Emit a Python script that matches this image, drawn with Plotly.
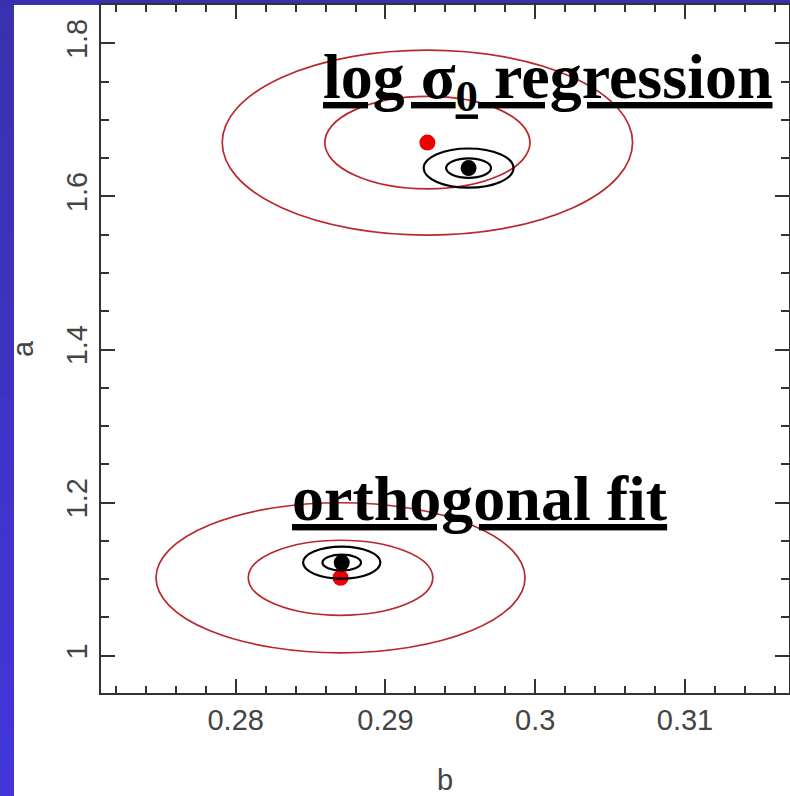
import plotly.graph_objects as go

# ---- data ----
fit_labels = ["<u><b>log σ<sub>0</sub> regression</b></u>", "<u><b>orthogonal fit</b></u>"]
label_b = [0.28572, 0.28365]
label_a = [1.7510, 1.2050]

red_b = [0.2928, 0.2870]
red_a = [1.6703, 1.1018]
red_sig_b = [0.00685, 0.00616]
red_sig_a = [0.0604, 0.0490]

black_b = [0.29555, 0.28708]
black_a = [1.6370, 1.1216]
black_sig_b = [0.00150, 0.00129]
black_sig_a = [0.0128, 0.0105]

levels = [1, 2]

x_range = [0.271006, 0.316944]
y_range = [0.95127, 1.85003]

fig = go.Figure()

shapes = []
W, H = 790, 796
L, R, T, B = 101, 1, 5, 103
pw, ph = W - L - R, H - T - B
def px2paper_x(px):
    return (px - L) / pw
def px2paper_y(py):
    return 1 - (py - T) / ph

# white slide area over the blue paper background
shapes.append(dict(type="rect", xref="paper", yref="paper", layer="below",
                   x0=px2paper_x(14), x1=px2paper_x(W + 2),
                   y0=px2paper_y(5), y1=px2paper_y(H + 2),
                   fillcolor="white", line=dict(width=0)))
# gradient bands of the left blue strip
top_col = (57, 49, 172)
bot_col = (66, 54, 220)
nb = 24
for i in range(nb):
    f = (i + 0.5) / nb
    c = tuple(int(round(top_col[k] + (bot_col[k] - top_col[k]) * f)) for k in range(3))
    y0 = H * i / nb
    y1 = H * (i + 1) / nb
    shapes.append(dict(type="rect", xref="paper", yref="paper", layer="below",
                       x0=px2paper_x(-1), x1=px2paper_x(14),
                       y0=px2paper_y(max(y0, 5)), y1=px2paper_y(y1 + 1),
                       fillcolor="rgb(%d,%d,%d)" % c, line=dict(width=0)))
# ellipses
for i in range(len(red_b)):
    for k in levels:
        shapes.append(dict(type="circle", xref="x", yref="y",
                           x0=red_b[i] - k * red_sig_b[i], x1=red_b[i] + k * red_sig_b[i],
                           y0=red_a[i] - k * red_sig_a[i], y1=red_a[i] + k * red_sig_a[i],
                           line=dict(color="#B8282C", width=1.7)))
        shapes.append(dict(type="circle", xref="x", yref="y",
                           x0=black_b[i] - k * black_sig_b[i], x1=black_b[i] + k * black_sig_b[i],
                           y0=black_a[i] - k * black_sig_a[i], y1=black_a[i] + k * black_sig_a[i],
                           line=dict(color="black", width=2.2)))

fig.add_trace(go.Scatter(x=red_b, y=red_a, mode="markers",
                         marker=dict(color="#EE0000", size=16, line=dict(width=0)),
                         showlegend=False, hoverinfo="skip"))
fig.add_trace(go.Scatter(x=black_b, y=black_a, mode="markers",
                         marker=dict(color="black", size=16, line=dict(width=0)),
                         showlegend=False, hoverinfo="skip"))

annotations = []
for i in range(len(fit_labels)):
    annotations.append(dict(x=label_b[i], y=label_a[i], xref="x", yref="y",
                            text=fit_labels[i], showarrow=False,
                            xanchor="left", yanchor="middle",
                            font=dict(family="Liberation Serif", size=64, color="black")))

axis_common = dict(showline=True, linecolor="#333", linewidth=2, mirror="allticks",
                   ticks="inside", tickcolor="#333", tickwidth=1.5, ticklen=14,
                   showgrid=False, zeroline=False, automargin=False,
                   tickfont=dict(family="Liberation Sans", size=29, color="#444"))

fig.update_layout(
    width=W, height=H,
    margin=dict(l=L, r=R, t=T, b=B, pad=0, autoexpand=False),
    paper_bgcolor="rgb(57,49,172)", plot_bgcolor="white",
    shapes=shapes, annotations=annotations,
    xaxis=dict(range=x_range, tick0=0.28, dtick=0.01,
               minor=dict(dtick=0.002, ticks="inside", ticklen=7, tickcolor="#333", tickwidth=1.5),
               title=dict(text="b", standoff=56, font=dict(family="Liberation Sans", size=29, color="#444")),
               **axis_common),
    yaxis=dict(range=y_range, tick0=1.0, dtick=0.2, tickangle=-90,
               minor=dict(dtick=0.05, ticks="inside", ticklen=8, tickcolor="#333", tickwidth=1.5),
               title=dict(text="a", standoff=19, font=dict(family="Liberation Sans", size=29, color="#444")),
               **axis_common),
)

fig.write_html("out.html")
